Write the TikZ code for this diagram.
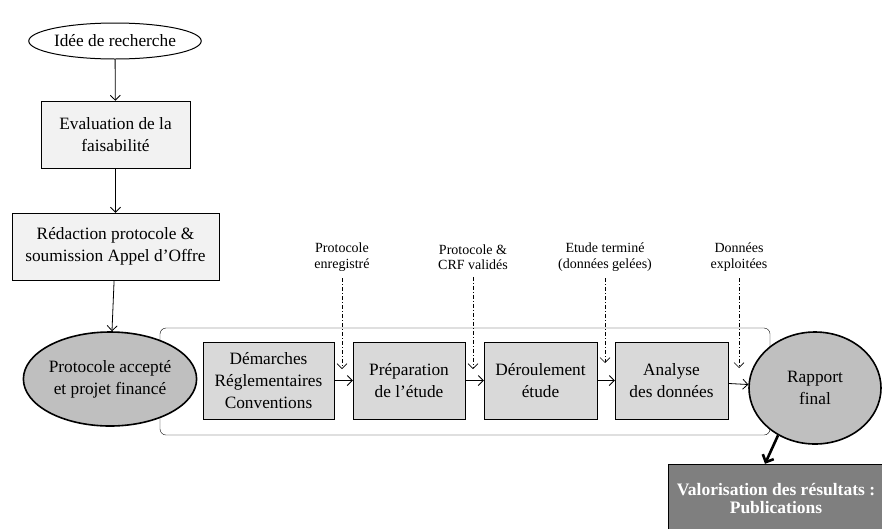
\documentclass[tikz,border=0pt]{standalone}
\usepackage{fontspec}
\setmainfont{Liberation Serif}
\usepackage{tikz}
\usetikzlibrary{shapes.geometric,arrows.meta}

\definecolor{lightbox}{HTML}{F2F2F2}
\definecolor{stepgray}{HTML}{D9D9D9}
\definecolor{ovalgray}{HTML}{BFBFBF}
\definecolor{darkbox}{HTML}{7F7F7F}

\begin{document}
\begin{tikzpicture}[x=1pt,y=-1pt]
    % Picture size
    \useasboundingbox (0,0) rectangle (882,528);
    % Fonts
    \newcommand{\bigtext}{\fontsize{17.3}{22}\selectfont}
    \newcommand{\smalltext}{\fontsize{14}{15.5}\selectfont}
    % Row of the study steps
    \newcommand{\rowy}{380.5}
    % Styles
    \tikzstyle{oval}=[ellipse, draw=black, inner sep = 0, align=center, font=\bigtext]
    \tikzstyle{box}=[rectangle, draw=black, inner sep = 0, align=center, font=\bigtext]
    \tikzstyle{stepbox}=[box, fill=stepgray, minimum height = 77pt]
    \tikzstyle{milestone}=[inner sep = 0, align=center, font=\smalltext]
    \tikzstyle{arrow}=[-{Straight Barb[length=5pt, width=10pt]}, line width=0.8pt]
    \tikzstyle{dotarrow}=[arrow, line width=0.6pt,
      dash pattern=on 4pt off 2pt on 1pt off 2pt]

    % Left column
    \node[oval, line width=1pt, minimum width = 154pt, minimum height = 36pt]
    (Idea) at (115,41) {Idée de recherche};
    \node[box, fill=lightbox, minimum width = 149pt, minimum height = 67pt]
    (Eval) at (115.5,134.5) {Evaluation de la\\faisabilité};
    \node[box, fill=lightbox, minimum width = 207pt, minimum height = 67pt]
    (Redaction) at (115.5,246.5) {Rédaction protocole \&\\soumission Appel d’Offre};

    % Frame round the study
    \node[draw=black, rounded corners=6pt, minimum width = 610pt,
      minimum height = 107pt, inner sep = 0] (Frame) at (465,381.5) {};

    % Ends of the study
    \node[oval, fill=ovalgray, line width=1.6pt, minimum width = 164pt,
      minimum height = 94pt] (Accept) at (110,379) {Protocole accepté\\et projet financé};
    \node[oval, fill=ovalgray, line width=1.6pt, minimum width = 132pt,
      minimum height = 112pt] (Report) at (815,388) {Rapport\\final};

    % Steps
    \foreach \i/\x/\w/\txt in {
        1/268.5/131/{Démarches\\Réglementaires\\Conventions},
        2/409/112/{Préparation\\de l’étude},
        3/540.5/113/{Déroulement\\étude},
        4/671.5/113/{Analyse\\des données}}
      {
        \node[stepbox, minimum width = \w pt] (Step-\i) at (\x,\rowy) {\txt};
      }

    % Valorisation
    \node[box, fill=darkbox, text=white, minimum width = 216pt, minimum height = 70pt,
      font=\fontsize{17.5}{18}\selectfont\bfseries] (Valor) at (776,499)
    {Valorisation des résultats :\\Publications};

    % Connect left column
    \draw[arrow] (Idea) -- (Eval);
    \draw[arrow] (Eval) -- (Redaction);
    \draw[arrow] (Redaction) -- (Accept);

    % Connect steps
    \foreach \i/\j in {1/2,2/3,3/4}
      {
        \draw[arrow] (Step-\i) -- (Step-\j);
      }
    \draw[arrow] (Step-4) -- (Report);

    % Milestones
    \foreach \i/\x/\tip/\txt in {
        1/342/369/{Protocole\\enregistré},
        2/473/369/{Protocole \&\\CRF validés},
        3/605/363/{Etude terminé\\(données gelées)},
        4/739/368/{Données\\exploitées}}
      {
        \node[milestone] (Milestone-\i) at (\x,257) {\txt};
        \coordinate (Tip-\i) at (\x,\tip);
        \draw[dotarrow, shorten <=7pt] (Milestone-\i) -- (Tip-\i);
      }

    % Report to valorisation
    \draw[-{Straight Barb[length=6pt, width=12pt]}, line width=2.6pt]
    (Report.232) -- ([xshift=-11pt]Valor.north);
  \end{tikzpicture}
\end{document}
